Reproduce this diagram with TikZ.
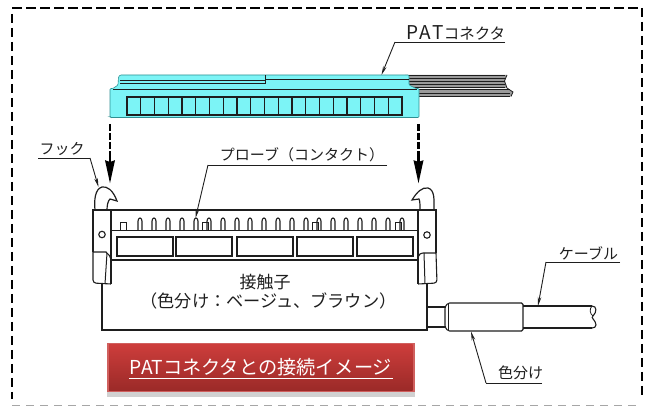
\documentclass[tikz,border=0pt]{standalone}
\usepackage{fontspec}
\newfontfamily\jp{Noto Sans CJK JP}
\usetikzlibrary{arrows.meta}
\definecolor{ink}{HTML}{1E1E1E}
\definecolor{cy}{HTML}{7CF4F6}
\definecolor{cyl}{HTML}{2F8F92}
\definecolor{strip}{HTML}{9A9A9A}
\definecolor{c1}{HTML}{CC3D3B}
\definecolor{c2}{HTML}{9B2A28}
\definecolor{edgered}{HTML}{D0605E}
\tikzset{
 ink/.style={draw=ink,line width=1pt},
 inkb/.style={draw=ink,line width=1.3pt},
 lab/.style={font=\jp\fontsize{15}{17}\selectfont,text=ink,inner sep=0pt,anchor=center},
 under/.style={draw=ink,line width=0.9pt},
 leader/.style={draw=ink,line width=0.9pt,-{Stealth[length=9pt,width=3.6pt]}},
 frm/.style={line width=2pt,dash pattern=on 9.5pt off 4.5pt},
 drop/.style={draw=black,line width=2.4pt,dash pattern=on 7pt off 2pt},
 drophead/.style={-{Stealth[length=23pt,width=9.5pt,inset=1.5pt]}},
}
\begin{document}
\begin{tikzpicture}[x=1pt,y=-1pt]
\useasboundingbox (0,0) rectangle (649,406);
% frame
\draw[frm,black] (12,8) -- (642,8);
\draw[frm,black] (12,14) -- (12,399);
\draw[frm,black] (642,8) -- (642,399);
\draw[line width=1.4pt,draw=black!35,dash pattern=on 8pt off 6pt] (12,405.5) -- (640,405.5);
% flat cables
\fill[strip] (405,75) -- (507,75) -- (504.5,81) -- (507,88) -- (405,88) -- cycle;
\fill[strip] (415,89) -- (508,89) -- (513,92) -- (511,96.5) -- (415,96.5) -- cycle;
\foreach \yy in {75,78,81,84,87.5}{\draw[ink,line width=.8pt] (405,\yy) -- (505,\yy);}
\foreach \yy in {89.5,93,96.5}{\draw[ink,line width=.8pt] (415,\yy) -- (510,\yy);}
\draw[ink,line width=.8pt] (507,75) -- (504.5,81) -- (507,88) -- (513,92) -- (511,96.5);
% PAT connector
\path[fill=cy,draw=cyl,line width=.6pt,rounded corners=1pt] (111,117.5) -- (110,117) -- (110,88.5) -- (113,88.5) -- (118,85) -- (118.5,77) -- (120,75) -- (409,75) -- (409,85) -- (416,88.5) -- (419,88.5) -- (419,117.5) -- cycle;
\draw[ink,line width=.9pt] (120,80) -- (265,80);
\draw[ink,line width=.9pt] (120,83) -- (265,83) -- (265,75);
\draw[ink,line width=.9pt] (265,79.5) -- (409,79.5);
\draw[ink,line width=.9pt] (113,89.5) -- (417,89.5);
\foreach \i in {0,...,19}{
  \draw[ink,line width=1.1pt] ({127+13.75*\i},97) rectangle ++(13.75,18);
}
% socket
\path[ink,line width=1.1pt] (102,284) -- (102,330) -- (427,330) -- (427,284);
\path[inkb] (111,210) -- (418,210);
\path[ink] (111,231) -- (418,231);
\path[inkb] (111,260) -- (418,260);
\foreach \xa/\xb in {117/173,176/232,237/293,297/353,357/413}{
  \draw[inkb,line width=1.2pt] (\xa,237) rectangle (\xb,256);
}
\foreach \px in {140,154,168,182,196,209,223,237,250,264,278,292,306,319,333,346,360,374,388,402}{
  \draw[ink,line width=1.15pt,rounded corners=.8pt] (\px-2,231) -- (\px-2,220.5) -- (\px-.8,218) -- (\px+.8,218) -- (\px+2,220.5) -- (\px+2,231);
}
\foreach \qx in {120,202,312,395}{
  \draw[ink,line width=1pt] (\qx,231) -- (\qx,223) -- (\qx+6,223) -- (\qx+6,231);
}
% ears and hooks
\path[ink,line width=1.2pt] (93,252) -- (93,210) -- (111,210) -- (111,284);
\path[ink,line width=1.2pt] (418,284) -- (418,210) -- (436,210) -- (436,253);
\draw[ink,line width=1.2pt] (95,210) .. controls (94,200) and (95,189) .. (102,187) .. controls (107,186) and (113,190) .. (117,201) -- (110,199) .. controls (108,201) and (107,205) .. (107,210);
\draw[ink,line width=1.2pt] (434,210) .. controls (434,200) and (435,190) .. (428,188) .. controls (422,187) and (417,192) .. (412,200) -- (419,199) .. controls (420,201) and (420,205) .. (420,210);
\node[circle,ink,line width=1.1pt,minimum size=6.5pt,inner sep=0pt] (hingeL) at (102,234.5) {};
\node[circle,ink,line width=1.1pt,minimum size=6.5pt,inner sep=0pt] (hingeR) at (427,235) {};
% latches
\draw[ink,line width=1.1pt,rounded corners=3pt] (93,252) -- (93,283) -- (111,284);
\draw[ink,line width=1.1pt] (93,252) -- (106,252) .. controls (109,254) and (111,257) .. (111,262);
\draw[ink,line width=1pt] (107,253) -- (105,284);
\draw[ink,line width=1.1pt] (418,284) -- (418,257) .. controls (419,254) and (421,253) .. (423,253) -- (436,253);
\draw[ink,line width=1.1pt,rounded corners=3pt] (436,253) -- (437,283) -- (418,284);
\draw[ink,line width=1pt] (424,253) -- (425,284);
% lower cable
\draw[ink,line width=1.1pt] (427,307) -- (445,307);
\draw[ink,line width=1.1pt] (427,327) -- (445,327);
\draw[ink,line width=1.1pt,rounded corners=1.5pt] (448,303) -- (523,303) -- (523,331) -- (448,331) -- (445,327) -- (445,307) -- cycle;
\draw[ink,line width=.6pt] (448,303) -- (448,331);
\draw[ink,line width=1.1pt] (523,306) -- (592,306);
\draw[ink,line width=1.1pt] (523,328) -- (592,328);
\draw[ink,line width=1.1pt] (592,306) .. controls (597,306) and (597,312) .. (593,316) .. controls (590,318) and (596,320) .. (596,325) .. controls (596,327) and (594,328) .. (592,328);
\draw[ink,line width=.8pt] (592,306) .. controls (589,309) and (590,314) .. (593,316);
% drop arrows
\coordinate (dropLs) at (110,124);
\coordinate (dropLe) at (110,183.5);
\coordinate (dropRs) at (418.5,124);
\coordinate (dropRe) at (418.5,183.5);
\draw[drop] (dropLs) -- (110,160);
\draw[drop] (dropRs) -- (418.5,160);
\draw[draw=black,line width=2.4pt,drophead] (110,156) -- (dropLe);
\draw[draw=black,line width=2.4pt,drophead] (418.5,156) -- (dropRe);
% labels
\node[lab,font=\jp\fontsize{15.5}{17}\selectfont] (patlab) at (456,33) {{\fontsize{19}{19}\selectfont P\hspace{1pt}A\hspace{1pt}T}コネクタ};
\coordinate (patu1) at (395,42);\coordinate (patu2) at (505,42);\coordinate (patt) at (381.5,75);
\draw[under] (patu2) -- (patu1);\draw[leader] (patu1) -- (patt);
\node[lab] (hooklab) at (62,149) {フック};
\coordinate (hku1) at (38,158);\coordinate (hku2) at (90,158);\coordinate (hkt) at (98.5,187);
\draw[under] (hku1) -- (hku2);\draw[leader] (hku2) -- (hkt);
\node[lab] (problab) at (302,155) {プローブ（コンタクト）};
\coordinate (pru1) at (387,165);\coordinate (pru2) at (208,165);\coordinate (prt) at (195.5,218);
\draw[under] (pru1) -- (pru2);\draw[leader] (pru2) -- (prt);
\node[lab] (cablab) at (588.5,253) {ケーブル};
\coordinate (cbu1) at (620,262);\coordinate (cbu2) at (546,262);\coordinate (cbt) at (538,306);
\draw[under] (cbu1) -- (cbu2);\draw[leader] (cbu2) -- (cbt);
\node[lab] (irolab) at (520.5,373) {色分け};
\coordinate (iru1) at (542,383);\coordinate (iru2) at (486,383);\coordinate (irt) at (471,331.5);
\draw[under] (iru1) -- (iru2);\draw[leader] (iru2) -- (irt);
\node[lab,font=\jp\fontsize{17}{19}\selectfont] (sesshoku) at (265,282) {接触子};
\node[lab,font=\jp\fontsize{17.2}{19}\selectfont] (sesshoku2) at (268.5,301) {（色分け：ベージュ、ブラウン）};
% button
\fill[black!18] (107,390) rectangle (414.5,397);
\fill[edgered] (107,343) rectangle (414.5,392.5);
\shade[top color=c1,bottom color=c2] (109,345) rectangle (412.5,390.5);
\node[inner sep=0pt,text=white,font=\jp\fontsize{19.2}{22}\selectfont] (btn) at (261,367.5) {PATコネクタとの接続イメージ};
\coordinate (btu1) at (129,378.3);\coordinate (btu2) at (393,378.3);
\draw[white,line width=1.1pt] (btu1) -- (btu2);
\end{tikzpicture}
\end{document}
